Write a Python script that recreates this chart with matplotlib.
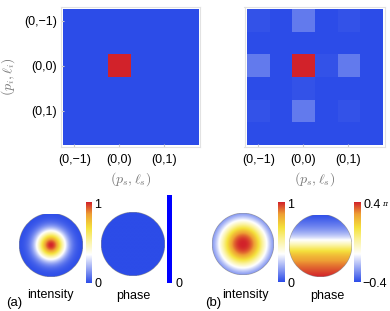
import numpy as np
import matplotlib
matplotlib.use('Agg')
import matplotlib.pyplot as plt
from matplotlib.colors import LinearSegmentedColormap

plt.rcParams['font.family'] = ['Liberation Sans', 'DejaVu Sans']
plt.rcParams['mathtext.fontset'] = 'cm'

# joint spectra, 6x6 cells, rows top -> bottom
tick_labels = ['(0,\u22121)', '(0,0)', '(0,1)']
tick_cells = [0, 2, 4]
jsa_a = [[0, 0, 0, 0, 0, 0],
         [0, 0, 0, 0, 0, 0],
         [0, 0, 1, 0, 0, 0],
         [0, 0, 0, 0, 0, 0],
         [0, 0, 0, 0, 0, 0],
         [0, 0, 0, 0, 0, 0]]
jsa_b = [[0.015, 0, 0.09, 0, 0.012, 0],
         [0, 0, 0, 0, 0, 0],
         [0.09, 0, 1.0, 0.012, 0.09, 0],
         [0, 0, 0.012, 0, 0, 0],
         [0.015, 0, 0.09, 0, 0.012, 0],
         [0, 0, 0, 0, 0, 0]]

# beam profiles: width (in units of aperture radius) and super-gauss order
beam_a = (0.44, 2.0)
beam_b = (0.76, 2.4)
# phase of (b) in units of pi: tilt + tanh step
phase_b_tilt = 0.2
phase_b_step = 0.2
phase_b_steep = 3.0
phase_b_shift = -0.03

cm = LinearSegmentedColormap.from_list('temp', [
    (0.0, '#2c4ce8'), (0.35, '#ffffff'), (0.52, '#fbf3a0'),
    (0.68, '#f5e23c'), (0.85, '#eea034'), (1.0, '#d2222a')])

fig = plt.figure(figsize=(3.9, 3.11), dpi=100)
W, H = 390., 311.


def box(x0, y0, x1, y1):
    return [x0 / W, 1 - y1 / H, (x1 - x0) / W, (y1 - y0) / H]


def matrix(rect, data, ylab):
    ax = fig.add_axes(rect)
    ax.imshow(np.array(data), cmap=cm, vmin=0, vmax=1, extent=(-0.5, 5.5, 5.5, -0.5),
              interpolation='nearest')
    ax.set_xlim(-0.61, 5.61)
    ax.set_ylim(5.61, -0.61)
    ax.set_xticks(tick_cells)
    ax.set_xticklabels(tick_labels, fontsize=9)
    ax.tick_params(axis='x', direction='in', length=2, color='#cccccc', pad=5)
    if ylab:
        ax.set_yticks(tick_cells)
        ax.set_yticklabels(tick_labels, fontsize=9)
        ax.tick_params(axis='y', direction='in', length=2, color='#cccccc', pad=2.5)
        ax.set_ylabel(r'$(p_i,\ell_i)$', fontsize=10, color='#777777', labelpad=5)
    else:
        ax.set_yticks([])
    ax.set_xlabel(r'$(p_s,\ell_s)$', fontsize=10, color='#777777', labelpad=3)
    for s in ax.spines.values():
        s.set_color('#e2e2e2')
        s.set_linewidth(0.8)


matrix(box(60.5, 6.5, 200.5, 147.5), jsa_a, True)
matrix(box(244.5, 6.5, 384.5, 147.5), jsa_b, False)

n = 240
yy, xx = np.mgrid[-1:1:n * 1j, -1:1:n * 1j]
rr = np.sqrt(xx ** 2 + yy ** 2)
outside = rr > 1


def disc(rect, img, vmin, vmax):
    ax = fig.add_axes(rect)
    ax.imshow(np.ma.masked_where(outside, img), cmap=cm, vmin=vmin, vmax=vmax,
              extent=(-1, 1, 1, -1), interpolation='bilinear')
    ax.set_xlim(-1, 1)
    ax.set_ylim(1, -1)
    ax.axis('off')


def cbar(rect, cmap):
    ax = fig.add_axes(rect)
    ax.imshow(np.linspace(1, 0, 256)[:, None], cmap=cmap, aspect='auto',
              extent=(0, 1, 0, 1))
    ax.axis('off')


int_a = np.exp(-(rr / beam_a[0]) ** beam_a[1])
int_b = np.exp(-(rr / beam_b[0]) ** beam_b[1])
phase_a = np.zeros_like(rr)
phase_b = phase_b_tilt * yy + phase_b_step * np.tanh(phase_b_steep * (yy - phase_b_shift))

disc(box(19, 213.5, 83, 277.5), int_a, 0, 1)
cbar(box(85.5, 202, 91, 283), cm)
disc(box(101, 212, 165, 276), phase_a, 0, 1)
cbar(box(167, 195, 172, 283), LinearSegmentedColormap.from_list('b', ['#0000ff', '#0000ff']))

disc(box(212, 213, 274, 275), int_b, 0, 1)
cbar(box(278, 202, 284, 282), cm)
disc(box(289, 214.5, 352, 277.5), phase_b, -0.4, 0.4)
cbar(box(354, 202, 361, 282), cm)


def txt(x, y, s, size=9, **kw):
    fig.text(x / W, 1 - y / H, s, fontsize=size, va='center', **kw)


txt(94.5, 205, '1')
txt(94.5, 284, '0')
txt(175.5, 284, '0')
txt(287, 205, '1')
txt(287, 284, '0')
txt(363, 205, '0.4')
txt(382, 204, '\u03c0', size=5.5, family='DejaVu Serif', style='italic')
txt(362, 284, '\u22120.4')

txt(14, 303, '(a)', ha='center', size=9.5)
txt(50.5, 295, 'intensity', ha='center')
txt(133, 296, 'phase', ha='center')
txt(213, 303, '(b)', ha='center', size=9.5)
txt(245.5, 295, 'intensity', ha='center')
txt(327, 296, 'phase', ha='center')

plt.savefig('out.png', dpi=100)
